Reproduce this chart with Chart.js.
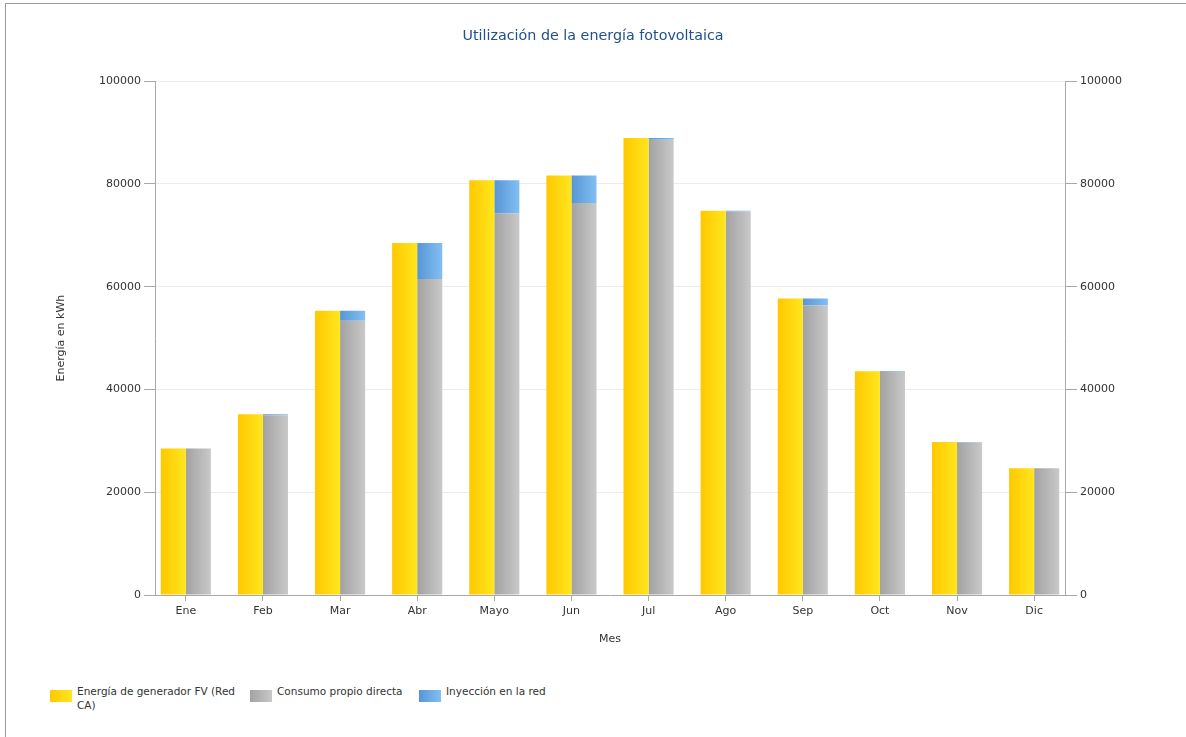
<!DOCTYPE html>
<html lang="es">
<head>
<meta charset="utf-8">
<title>Utilización de la energía fotovoltaica</title>
<script src="https://cdn.jsdelivr.net/npm/chart.js@4.4.1/dist/chart.umd.min.js"></script>
<style>
  html, body { margin: 0; padding: 0; background: #fff; }
  body { width: 1186px; height: 737px; position: relative; overflow: hidden;
         font-family: "DejaVu Sans", sans-serif; }
  .frame { position: absolute; left: 5px; top: 3px; width: 1181px; height: 734px;
           border-top: 1px solid #9a9a9a; border-left: 1px solid #9a9a9a; box-sizing: border-box; }
  #wrap { position: absolute; left: 0; top: 0; width: 1186px; height: 660px; }
  .legend { position: absolute; top: 684px; left: 0; font-size: 10.5px; color: #333; line-height: 14px; }
  .item { position: absolute; top: 0; display: flex; align-items: flex-start; }
  .swatch { width: 22px; height: 12px; margin-top: 6px; margin-right: 5px; flex: none; }
</style>
</head>
<body>
<div class="frame"></div>
<div id="wrap"><canvas id="chart" width="1186" height="660"></canvas></div>
<div class="legend" id="legend"></div>
<script>
// Monthly PV energy figures (kWh)
const months = ['Ene', 'Feb', 'Mar', 'Abr', 'Mayo', 'Jun', 'Jul', 'Ago', 'Sep', 'Oct', 'Nov', 'Dic'];
const pvGeneration = [28500, 35200, 55300, 68500, 80700, 81650, 88950, 74800, 57700, 43550, 29800, 24650];
const selfConsumption = [28500, 35000, 53350, 61500, 74300, 76300, 88600, 74650, 56350, 43400, 29700, 24650];
const gridFeedIn = [0, 200, 1950, 7000, 6400, 5350, 350, 150, 1350, 150, 100, 0];
const yTickValues = [0, 20000, 40000, 60000, 80000, 100000];

const seriesNames = ['Energía de generador FV (Red CA)', 'Consumo propio directa', 'Inyección en la red'];
const seriesGradients = [
  ['#ffc800', '#ffe61e'],
  ['#a2a2a2', '#c9c9c9'],
  ['#5796d6', '#82bff4']
];

const FONT = '"DejaVu Sans", sans-serif';
const TEXT = '#333333';
const AXIS = '#a8a8a8';

// Horizontal gradient across each bar, built from the element's own geometry
const barGradient = {
  id: 'barGradient',
  beforeDatasetsDraw(chart) {
    const ctx = chart.ctx;
    chart.data.datasets.forEach((ds, i) => {
      const meta = chart.getDatasetMeta(i);
      meta.data.forEach(bar => {
        const { x, width } = bar.getProps(['x', 'width'], true);
        const g = ctx.createLinearGradient(x - width / 2, 0, x + width / 2, 0);
        g.addColorStop(0, ds.gradient[0]);
        g.addColorStop(1, ds.gradient[1]);
        bar.options = Object.assign({}, bar.options, { backgroundColor: g });
      });
    });
  }
};

const indices = months.map((_, i) => i);
const plainNumber = v => String(v);

new Chart(document.getElementById('chart'), {
  type: 'bar',
  data: {
    labels: indices,
    datasets: [
      { label: seriesNames[0], data: pvGeneration, stack: 'gen', gradient: seriesGradients[0], backgroundColor: seriesGradients[0][0] },
      { label: seriesNames[1], data: selfConsumption, stack: 'use', gradient: seriesGradients[1], backgroundColor: seriesGradients[1][0] },
      { label: seriesNames[2], data: gridFeedIn, stack: 'use', gradient: seriesGradients[2], backgroundColor: seriesGradients[2][0] }
    ]
  },
  options: {
    responsive: false,
    animation: false,
    events: [],
    categoryPercentage: 0.65,
    barPercentage: 1,
    borderWidth: 0,
    layout: { padding: { left: 0, right: 0, top: 0, bottom: 5 } },
    plugins: {
      legend: { display: false },
      tooltip: { enabled: false },
      title: {
        display: true,
        text: 'Utilización de la energía fotovoltaica',
        color: '#1f4f8f',
        font: { family: FONT, size: 14.3, weight: 'normal' },
        padding: { top: 28, bottom: 36 }
      }
    },
    scales: {
      x: {
        type: 'linear',
        min: -0.4,
        max: 11.4,
        offset: false,
        afterBuildTicks: s => { s.ticks = months.map((_, i) => ({ value: i })); },
        afterFit: s => { s.height = 60; },
        grid: { offset: false, drawOnChartArea: false, drawTicks: true, tickLength: 6, tickColor: AXIS },
        border: { color: AXIS },
        ticks: {
          color: TEXT, font: { family: FONT, size: 11 }, padding: 4,
          autoSkip: false, maxRotation: 0,
          callback: v => months[v]
        },
        title: { display: true, text: 'Mes', color: TEXT, font: { family: FONT, size: 11 }, padding: { top: 0, bottom: 9 } }
      },
      y: {
        position: 'left',
        stacked: true,
        min: 0,
        max: 100000,
        afterBuildTicks: s => { s.ticks = yTickValues.map(v => ({ value: v })); },
        afterFit: s => { s.width = 155; },
        grid: { color: '#ececec', tickColor: AXIS, tickLength: 11 },
        border: { color: AXIS },
        ticks: { color: TEXT, font: { family: FONT, size: 11 }, padding: 3, callback: plainNumber },
        title: { display: true, text: 'Energía en kWh', color: TEXT, font: { family: FONT, size: 11 }, padding: { top: 55, bottom: 0 } }
      },
      y2: {
        position: 'right',
        min: 0,
        max: 100000,
        afterBuildTicks: s => { s.ticks = yTickValues.map(v => ({ value: v })); },
        afterFit: s => { s.width = 121; },
        grid: { drawOnChartArea: false, tickColor: AXIS, tickLength: 12 },
        border: { color: AXIS },
        ticks: { color: TEXT, font: { family: FONT, size: 11 }, padding: 3, callback: plainNumber }
      }
    }
  },
  plugins: [barGradient]
});

// Legend below the plot
const legendLeft = [50, 250, 419];
const legendWidth = [190, 165, 160];
const legend = document.getElementById('legend');
seriesNames.forEach((name, i) => {
  const item = document.createElement('div');
  item.className = 'item';
  item.style.left = legendLeft[i] + 'px';
  item.style.width = legendWidth[i] + 'px';
  const sw = document.createElement('div');
  sw.className = 'swatch';
  sw.style.background = `linear-gradient(to right, ${seriesGradients[i][0]}, ${seriesGradients[i][1]})`;
  const txt = document.createElement('div');
  txt.textContent = name;
  item.appendChild(sw);
  item.appendChild(txt);
  legend.appendChild(item);
});
</script>
</body>
</html>
